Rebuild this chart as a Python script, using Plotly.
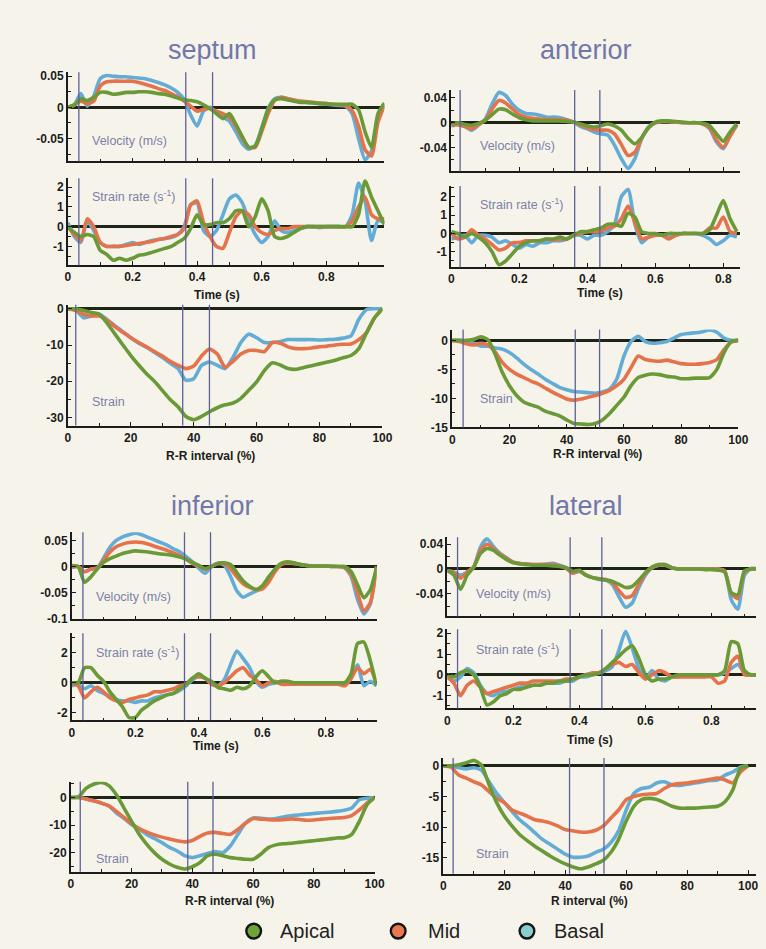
import plotly.graph_objects as go

# ---------------------------------------------------------------------------
# Sampled curves (time grids in s, R-R grids in %)
# ---------------------------------------------------------------------------
SEPTUM_T = [round(0.02 * i, 2) for i in range(50)]
ANTERIOR_T = [round(0.02 * i, 2) for i in range(43)]
INFERIOR_T = [round(0.02 * i, 2) for i in range(49)]
LATERAL_T = [round(0.02 * i, 2) for i in range(48)]
RR_PCT = [2.5 * i for i in range(41)]

# --- septum ---
SEPTUM_VEL_BASAL = [0, .004, .022, .002, .018, .046, .051, .050, .049, .049,
                    .048, .047, .046, .043, .040, .036, .031, .024, .013, -.012,
                    -.030, -.006, 0, -.010, -.016, -.022, -.039, -.058, -.067, -.061,
                    -.033, -.002, .014, .016, .014, .011, .009, .008, .007, .006,
                    .005, .004, .003, .002, -.010, -.050, -.084, -.070, -.018, .004]
SEPTUM_VEL_MID = [0, .004, .010, .006, .010, .034, .041, .042, .042, .042,
                  .042, .040, .037, .034, .030, .027, .022, .017, .010, .002,
                  -.006, -.003, -.002, -.006, -.010, -.016, -.030, -.050, -.064, -.064,
                  -.039, -.010, .011, .016, .014, .012, .010, .009, .008, .007,
                  .006, .005, .004, .003, -.005, -.030, -.068, -.078, -.024, .003]
SEPTUM_VEL_APICAL = [0, .004, .014, .011, .016, .024, .024, .021, .022, .024,
                     .024, .025, .025, .024, .022, .021, .018, .015, .012, .011,
                     .009, .004, -.002, -.010, -.018, -.010, -.027, -.047, -.064, -.062,
                     -.035, -.003, .012, .014, .012, .010, .008, .008, .007, .006,
                     .006, .005, .005, .005, .005, -.004, -.039, -.064, -.010, .007]

SEPTUM_SR_BASAL = [0.2, -0.5, -0.8, 0.3, -0.2, -0.8, -1.0, -1.0, -1.0, -0.9,
                   -0.8, -0.9, -0.8, -0.7, -0.65, -0.6, -0.55, -0.4, 0.0, 1.1,
                   1.2, -0.2, -0.5, -0.2, 0.6, 1.4, 1.6, 1.2, 0.3, -0.4,
                   -0.8, -0.5, 0.3, -0.2, -0.3, -0.2, -0.1, 0, 0, -0.05,
                   0, 0, 0, 0, 0.6, 2.2, 1.3, -0.7, 0.3, 0.2]
SEPTUM_SR_MID = [0, -0.4, -0.7, 0.4, 0, -0.8, -1.0, -1.0, -1.0, -0.95,
                 -0.9, -0.85, -0.8, -0.75, -0.65, -0.6, -0.5, -0.4, -0.1, 1.1,
                 1.3, 0.2, -0.5, -1.0, -1.1, -0.3, 0.5, 0.8, 0.6, 0.0,
                 -0.3, -0.4, -0.2, -0.1, -0.1, 0, 0, 0, 0, 0,
                 0, 0, 0, 0, 0.3, 1.0, 1.5, 0.6, 0.4, 0.4]
SEPTUM_SR_APICAL = [0, -0.3, -0.5, -0.4, -0.5, -1.2, -1.4, -1.7, -1.6, -1.7,
                    -1.6, -1.45, -1.4, -1.3, -1.2, -1.1, -1.0, -0.8, -0.6, -0.1,
                    0.6, 0.1, 0.1, 0.2, 0.2, 0.4, 0.8, 0.8, 0.0, 0.5,
                    1.4, 0.8, -0.5, -0.6, -0.5, -0.3, -0.1, 0, 0, 0,
                    0, 0, 0, 0, 0, 0.6, 2.3, 1.5, 0.8, 0.1]

SEPTUM_ST_BASAL = [0, -0.3, -2.5, -2.0, -1.5, -3.0, -4.7, -6.3, -8.0, -9.5,
                   -10.6, -12.0, -13.4, -15.0, -16.5, -19.7, -19.3, -15.6, -14.7, -15.6,
                   -16.5, -13.4, -9.3, -7.0, -8.0, -9.3, -9.3, -9.0, -8.5, -8.5,
                   -8.5, -8.5, -8.6, -8.5, -8.4, -8.1, -7.5, -2.9, -0.2, 0, 0]
SEPTUM_ST_MID = [0, -0.5, -1.5, -2.0, -2.0, -3.2, -5.0, -6.5, -8.0, -9.3,
                 -10.5, -11.8, -13.0, -14.5, -15.6, -16.5, -15.8, -13.0, -11.1, -12.5,
                 -16.1, -14.5, -12.5, -11.5, -11.5, -11.8, -9.3, -9.5, -10.5, -11.0,
                 -11.0, -10.8, -10.5, -10.3, -10.0, -9.8, -9.7, -8.5, -6.5, -2.5, 0]
SEPTUM_ST_APICAL = [0, 0, -0.5, -1.0, -1.5, -4.0, -7.0, -10.0, -12.9, -15.5,
                    -17.9, -20.0, -22.5, -25.0, -27.0, -29.7, -30.6, -29.7, -28.4, -27.3,
                    -26.5, -26.0, -24.7, -22.5, -20.2, -17.0, -14.9, -15.5, -16.5, -16.7,
                    -16.2, -15.7, -15.2, -14.7, -14.2, -13.5, -12.9, -11.0, -6.5, -2.5, 0]

# --- anterior ---
ANTERIOR_VEL_BASAL = [-.005, -.003, -.006, -.012, -.004, .006, .030, .049, .044, .030,
                      .020, .015, .014, .012, .009, .009, .008, .005, .001, -.006,
                      -.010, -.015, -.018, -.020, -.036, -.058, -.074, -.058, -.026, -.007,
                      0, .002, .002, .001, 0, 0, 0, -.002, -.010, -.031,
                      -.042, -.020, -.004]
ANTERIOR_VEL_MID = [-.004, -.003, -.006, -.010, -.003, .004, .022, .036, .032, .022,
                    .013, .009, .007, .006, .005, .005, .005, .004, .001, -.004,
                    -.008, -.011, -.012, -.012, -.018, -.035, -.053, -.048, -.025, -.008,
                    0, .002, .002, .001, 0, 0, 0, -.002, -.008, -.028,
                    -.040, -.022, -.003]
ANTERIOR_VEL_APICAL = [-.002, 0, -.003, -.004, -.001, .004, .013, .022, .021, .014,
                       .008, .005, .003, .003, .003, .003, .003, .002, .001, -.002,
                       -.005, -.007, -.005, -.002, -.005, -.012, -.025, -.034, -.024, -.008,
                       .001, .003, .003, .002, .001, 0, 0, -.001, -.005, -.018,
                       -.030, -.015, -.002]

ANTERIOR_SR_BASAL = [-0.3, -0.2, -0.1, -0.5, -0.1, -0.1, -0.2, -0.5, -0.4, -0.6,
                     -0.8, -0.6, -0.7, -0.5, -0.5, -0.4, -0.4, -0.3, -0.1, -0.1,
                     -0.3, -0.1, -0.1, 0.1, 0.5, 2.0, 2.4, 0.5, -0.5, -0.2,
                     -0.1, -0.1, -0.2, -0.1, 0, 0, 0, -0.1, -0.3, -0.6,
                     -0.4, -0.1, -0.2]
ANTERIOR_SR_MID = [0, -0.3, -0.2, 0.2, -0.1, -0.3, -0.6, -0.9, -0.8, -0.5,
                   -0.5, -0.4, -0.4, -0.4, -0.3, -0.35, -0.3, -0.3, -0.1, 0,
                   0.1, 0.1, 0.1, 0.3, 0.4, 0.8, 1.5, 0.6, -0.3, -0.2,
                   -0.1, -0.1, -0.3, -0.1, 0, 0, 0, 0, 0.3, 0.3,
                   0.9, 0.1, 0]
ANTERIOR_SR_APICAL = [0.1, 0, -0.2, 0, -0.2, -0.5, -1.0, -1.7, -1.5, -1.1,
                      -0.7, -0.5, -0.4, -0.4, -0.3, -0.3, -0.2, -0.3, -0.1, 0.1,
                      0.1, 0.2, 0.3, 0.5, 0.5, 0.4, 1.1, 0.9, 0.1, 0,
                      0, -0.1, 0, 0, 0, 0, 0, 0, 0.2, 1.0,
                      1.8, 0.8, 0.1]

ANTERIOR_ST_BASAL = [0, 0, -0.2, -0.5, -1.0, -1.0, -1.3, -1.5, -2.1, -3.0,
                     -4.1, -5.0, -5.8, -6.7, -7.4, -8.1, -8.5, -8.8, -8.9, -9.0,
                     -9.1, -8.9, -8.4, -6.7, -2.7, -0.2, 0.7, -0.2, -0.5, -0.4,
                     -0.2, 0.4, 1.0, 1.2, 1.3, 1.5, 1.8, 1.4, 0.4, 0, 0]
ANTERIOR_ST_MID = [0, -0.2, -0.6, -0.8, -0.5, -0.8, -2.0, -3.8, -5.0, -5.8,
                   -6.4, -7.0, -7.5, -8.2, -8.9, -9.5, -10.1, -10.3, -10.1, -9.8,
                   -9.5, -9.1, -8.6, -7.8, -6.7, -4.7, -2.7, -3.3, -3.5, -3.6,
                   -3.4, -3.7, -4.0, -4.1, -4.1, -4.0, -3.8, -3.3, -1.6, -0.3, 0]
ANTERIOR_ST_APICAL = [0, 0, 0, 0.2, 0.6, 0.1, -2.4, -5.5, -7.8, -9.5,
                      -10.6, -11.1, -11.5, -12.2, -12.6, -13.0, -13.7, -14.3, -14.4, -14.5,
                      -14.3, -13.7, -12.6, -11.2, -9.8, -7.8, -6.4, -6.0, -5.8, -5.9,
                      -6.2, -6.3, -6.6, -6.6, -6.5, -6.5, -6.4, -5.0, -2.1, -0.2, 0]

# --- inferior ---
INFERIOR_VEL_BASAL = [-.001, 0, -.010, -.005, -.003, .016, .037, .050, .057, .061,
                      .064, .061, .056, .051, .046, .041, .034, .028, .019, .009,
                      -.003, -.013, 0, .006, .003, -.019, -.047, -.059, -.053, -.047,
                      -.041, -.025, -.006, .005, .008, .006, .004, .002, .001, .001,
                      .001, .001, 0, -.003, -.019, -.063, -.091, -.072, 0]
INFERIOR_VEL_MID = [-.001, 0, -.010, -.005, -.003, .012, .028, .038, .043, .046,
                    .047, .046, .043, .039, .035, .031, .026, .021, .014, .006,
                    .001, -.005, 0, .006, .005, -.004, -.020, -.033, -.040, -.044,
                    -.043, -.030, -.010, .004, .007, .006, .004, .002, .001, .001,
                    .001, 0, 0, -.002, -.015, -.050, -.085, -.070, 0]
INFERIOR_VEL_APICAL = [.002, 0, -.030, -.020, -.005, .008, .015, .020, .025, .028,
                       .030, .029, .028, .026, .024, .023, .021, .018, .014, .008,
                       .002, -.004, 0, .006, .007, .004, -.012, -.028, -.038, -.044,
                       -.037, -.020, -.005, .006, .009, .007, .004, .002, .001, .001,
                       .001, 0, 0, 0, -.010, -.035, -.060, -.045, -.002]

INFERIOR_SR_BASAL = [-0.2, -0.1, -0.4, -0.2, -0.5, -0.7, -0.9, -1.1, -1.2, -1.2,
                     -1.3, -1.2, -1.2, -1.0, -0.9, -0.8, -0.7, -0.5, -0.2, 0.2,
                     0.4, 0.3, 0, -0.2, 0.2, 1.2, 2.1, 1.6, 1.0, 0.1,
                     -0.3, -0.1, 0, 0.1, 0, 0, 0, 0, 0, 0,
                     0, 0, 0, 0, 0.3, 1.2, -0.2, 0.1, -0.2]
INFERIOR_SR_MID = [-0.1, -0.2, -1.0, -0.6, -0.3, -0.6, -1.0, -1.2, -1.3, -1.1,
                   -1.0, -0.9, -0.8, -0.6, -0.6, -0.5, -0.4, -0.2, -0.1, 0.3,
                   0.4, 0.3, -0.1, -0.2, 0, 0.4, 0.8, 1.0, 0.5, 0.2,
                   -0.2, 0, 0.1, -0.1, -0.1, -0.1, -0.1, -0.1, -0.1, -0.1,
                   -0.1, -0.1, -0.1, -0.2, 0.3, 1.0, 0.6, 0.9, -0.1]
INFERIOR_SR_APICAL = [0, 0, 1.0, 1.0, 0.5, 0.1, -0.6, -1.1, -1.6, -2.3,
                      -2.3, -1.8, -1.5, -1.2, -1.0, -0.8, -0.7, -0.4, -0.1, 0.3,
                      0.6, 0.3, 0.1, -0.3, -0.4, -0.5, -0.3, -0.4, -0.2, 0.4,
                      0.8, 0.4, 0, 0.1, 0.1, 0, 0, 0, 0, 0,
                      0, 0, 0, 0, 0.6, 2.6, 2.7, 1.5, -0.2]

INFERIOR_ST_BASAL = [0, 0, -0.5, -1.2, -2.0, -3.0, -5.6, -7.5, -9.8, -11.5,
                     -13.3, -14.8, -16.3, -18.0, -19.3, -21.0, -21.7, -21.0, -20.2, -19.5,
                     -19.9, -17.5, -13.3, -9.2, -7.4, -7.5, -7.8, -7.6, -7.0, -6.6,
                     -6.3, -6.0, -5.8, -5.5, -5.3, -5.0, -4.6, -3.8, -0.8, -0.3, 0]
INFERIOR_ST_MID = [0, 0, -0.5, -1.2, -2.0, -3.0, -5.0, -7.2, -9.5, -11.2,
                   -12.5, -13.5, -14.3, -15.0, -15.6, -16.0, -15.5, -14.0, -12.8, -12.6,
                   -13.0, -13.3, -11.5, -9.3, -7.6, -7.8, -8.0, -8.1, -8.0, -7.7,
                   -7.9, -8.2, -8.1, -7.8, -7.6, -7.4, -7.2, -6.5, -4.5, -2.0, 0]
INFERIOR_ST_APICAL = [0, 0.2, 3.3, 4.8, 5.4, 4.3, 1.0, -3.8, -8.6, -13.3,
                      -16.9, -19.9, -22.3, -24.0, -25.2, -25.8, -25.0, -23.5, -21.0, -20.5,
                      -21.0, -21.7, -22.0, -22.3, -22.3, -20.5, -18.1, -17.1, -16.7, -16.5,
                      -16.2, -15.9, -15.6, -15.3, -15.0, -14.6, -14.5, -13.3, -8.6, -2.6, 0]

# --- lateral ---
LATERAL_VEL_BASAL = [-.003, -.005, -.010, -.005, .003, .035, .049, .036, .025, .018,
                     .011, .009, .008, .007, .007, .008, .009, .006, .002, -.006,
                     -.004, -.010, -.014, -.017, -.018, -.025, -.045, -.062, -.055, -.030,
                     -.010, .002, .006, .007, .002, 0, 0, 0, 0, 0,
                     0, 0, -.003, -.050, -.065, -.010, .001, 0]
LATERAL_VEL_MID = [-.003, -.006, -.015, -.005, .003, .030, .040, .033, .024, .017,
                   .011, .009, .008, .007, .007, .007, .007, .005, .001, -.007,
                   -.003, -.010, -.014, -.016, -.017, -.022, -.035, -.046, -.043, -.025,
                   -.008, .002, .006, .006, .002, 0, 0, 0, 0, 0,
                   0, 0, -.003, -.040, -.048, -.005, 0, 0]
LATERAL_VEL_APICAL = [-.002, -.010, -.033, -.010, .003, .025, .033, .030, .022, .015,
                      .010, .008, .007, .006, .006, .006, .005, .004, .002, -.004,
                      -.002, -.010, -.014, -.016, -.018, -.020, -.025, -.030, -.028, -.018,
                      -.006, .003, .007, .007, .002, 0, 0, 0, 0, -.001,
                      -.001, -.002, -.005, -.038, -.042, -.003, 0, 0]

LATERAL_SR_BASAL = [-0.1, -0.3, -0.1, 0.3, 0.1, -0.5, -0.9, -1.0, -0.8, -0.8,
                    -0.7, -0.6, -0.5, -0.5, -0.5, -0.4, -0.4, -0.4, -0.3, -0.3,
                    -0.1, -0.1, 0, 0.1, 0.2, 0.4, 1.2, 2.1, 1.3, 0.3,
                    -0.2, 0.2, -0.2, -0.3, -0.1, -0.1, 0, 0, 0, 0,
                    0, 0, 0.1, 0.3, 0.5, 0.1, 0, 0]
LATERAL_SR_MID = [-0.1, -0.4, -1.0, -0.5, -0.3, -0.6, -0.9, -0.8, -0.7, -0.6,
                  -0.5, -0.4, -0.4, -0.3, -0.3, -0.3, -0.3, -0.3, -0.2, -0.2,
                  -0.1, 0, 0.1, 0.1, 0.3, 0.5, 0.6, 0.4, 0.5, 0.1,
                  -0.2, 0, 0.2, 0.1, -0.1, -0.1, -0.1, -0.1, -0.1, -0.1,
                  -0.1, -0.4, -0.3, 0.6, 0.9, 0, 0, 0]
LATERAL_SR_APICAL = [0, -0.1, 0.1, 0.2, 0, -0.6, -1.45, -1.3, -1.0, -0.9,
                     -0.7, -0.7, -0.6, -0.5, -0.5, -0.4, -0.4, -0.3, -0.3, -0.2,
                     -0.1, 0, 0, 0.1, 0.3, 0.6, 0.9, 1.2, 1.4, 0.8,
                     0, -0.3, -0.2, -0.2, -0.1, 0, 0, 0, 0, 0,
                     0, 0, 0.2, 1.6, 1.5, 0.2, 0, 0]

LATERAL_ST_BASAL = [0, 0, -0.3, -0.5, -0.3, -0.7, -2.6, -4.5, -6.0, -7.4,
                    -8.8, -9.8, -10.9, -12.0, -12.8, -13.6, -14.4, -14.9, -14.9, -14.7,
                    -14.1, -13.6, -12.5, -10.6, -7.2, -4.5, -3.7, -3.5, -2.8, -2.6,
                    -3.1, -3.2, -3.0, -2.8, -2.6, -2.4, -2.3, -1.5, -1.0, -0.2, 0]
LATERAL_ST_MID = [0, -0.2, -1.5, -2.0, -2.6, -3.1, -4.2, -5.3, -6.0, -7.2,
                  -7.7, -8.2, -8.8, -9.0, -9.3, -9.8, -10.4, -10.6, -10.8, -10.8,
                  -10.5, -9.8, -8.5, -7.2, -5.5, -5.0, -4.7, -4.6, -4.5, -3.7,
                  -3.1, -2.9, -2.8, -2.6, -2.4, -2.2, -2.0, -2.3, -2.8, -1.0, 0]
LATERAL_ST_APICAL = [0, 0, 0.2, 0.5, 0.9, 0.1, -3.1, -6.0, -8.2, -9.8,
                     -11.2, -12.2, -13.1, -13.9, -14.7, -15.4, -16.0, -16.5, -16.8, -16.5,
                     -16.0, -15.4, -14.1, -12.0, -9.0, -6.6, -5.5, -5.3, -5.5, -6.0,
                     -6.6, -6.9, -6.9, -6.9, -6.8, -6.7, -6.6, -5.8, -3.9, -0.4, 0]

# Event markers (vertical lines): time axis (s) and R-R axis (%)
SEPTUM_EVENTS_T = [0.034, 0.365, 0.448]
SEPTUM_EVENTS_RR = [2.5, 36.5, 45.0]
ANTERIOR_EVENTS_T = [0.026, 0.363, 0.437]
ANTERIOR_EVENTS_RR = [3.8, 43.0, 51.5]
INFERIOR_EVENTS_T = [0.035, 0.355, 0.437]
INFERIOR_EVENTS_RR = [3.1, 38.5, 46.8]
LATERAL_EVENTS_T = [0.031, 0.372, 0.468]
LATERAL_EVENTS_RR = [3.2, 41.4, 52.7]

# Tick values / labels
TIME_TICKS = [0, 0.2, 0.4, 0.6, 0.8]
TIME_TICK_TEXT = ["0", "0.2", "0.4", "0.6", "0.8"]
RR_TICKS = [0, 20, 40, 60, 80, 100]
RR_TICK_TEXT = ["0", "20", "40", "60", "80", "100"]

SEGMENTS = ["Basal", "Mid", "Apical"]
LINE_COLORS = {"Basal": "#63acd6", "Mid": "#e4724b", "Apical": "#6a9a37"}
LEGEND_ORDER = ["Apical", "Mid", "Basal"]
LEGEND_COLORS = {"Apical": "#6ea53b", "Mid": "#e8794f", "Basal": "#88cdcf"}

# ---------------------------------------------------------------------------
# Page geometry (pixels) for each wall panel
# ---------------------------------------------------------------------------
W, H = 766, 949


def px(x):
    return x / W


def py(y):
    return 1 - y / H


PANELS = [
    dict(name="septum", title=(213, 48),
         t=SEPTUM_T, rr=RR_PCT,
         vel=dict(Basal=SEPTUM_VEL_BASAL, Mid=SEPTUM_VEL_MID, Apical=SEPTUM_VEL_APICAL),
         sr=dict(Basal=SEPTUM_SR_BASAL, Mid=SEPTUM_SR_MID, Apical=SEPTUM_SR_APICAL),
         st=dict(Basal=SEPTUM_ST_BASAL, Mid=SEPTUM_ST_MID, Apical=SEPTUM_ST_APICAL),
         ev_t=SEPTUM_EVENTS_T, ev_rr=SEPTUM_EVENTS_RR,
         xpx=(66, 388), spx=(66, 386), vel_px=(70, 160), sr_px=(177, 265), st_px=(305, 427),
         t_range=[0, 0.98], rr_range=[0, 100],
         vel_range=[-0.0865, 0.0563], vel_ticks=[-0.05, 0, 0.05], vel_text=["-0.05", "0", "0.05"],
         sr_range=[-1.95, 2.45], sr_ticks=[-1, 0, 1, 2], sr_text=["-1", "0", "1", "2"],
         st_range=[-32.2, 1.1], st_ticks=[-30, -20, -10, 0], st_text=["-30", "-20", "-10", "0"],
         time_lab=(218, 295), rr_lab=(211, 458), rr_title="R-R interval (%)",
         lab_x=88, lab_vel=139, lab_sr=195, lab_st=403),
    dict(name="anterior", title=(593, 48),
         t=ANTERIOR_T, rr=RR_PCT,
         vel=dict(Basal=ANTERIOR_VEL_BASAL, Mid=ANTERIOR_VEL_MID, Apical=ANTERIOR_VEL_APICAL),
         sr=dict(Basal=ANTERIOR_SR_BASAL, Mid=ANTERIOR_SR_MID, Apical=ANTERIOR_SR_APICAL),
         st=dict(Basal=ANTERIOR_ST_BASAL, Mid=ANTERIOR_ST_MID, Apical=ANTERIOR_ST_APICAL),
         ev_t=ANTERIOR_EVENTS_T, ev_rr=ANTERIOR_EVENTS_RR,
         xpx=(456, 750), spx=(457, 748), vel_px=(88, 170), sr_px=(185, 267), st_px=(330, 429),
         t_range=[0, 0.85], rr_range=[0, 100],
         vel_range=[-0.0784, 0.0528], vel_ticks=[-0.04, 0, 0.04], vel_text=["-0.04", "0", "0.04"],
         sr_range=[-1.84, 2.59], sr_ticks=[-1, 0, 1, 2], sr_text=["-1", "0", "1", "2"],
         st_range=[-15.0, 1.87], st_ticks=[-15, -10, -5, 0], st_text=["-15", "-10", "-5", "0"],
         time_lab=(607, 293), rr_lab=(605, 456), rr_title="R-R interval (%)",
         lab_x=483, lab_vel=145, lab_sr=203, lab_st=400),
    dict(name="inferior", title=(213, 508),
         t=INFERIOR_T, rr=RR_PCT,
         vel=dict(Basal=INFERIOR_VEL_BASAL, Mid=INFERIOR_VEL_MID, Apical=INFERIOR_VEL_APICAL),
         sr=dict(Basal=INFERIOR_SR_BASAL, Mid=INFERIOR_SR_MID, Apical=INFERIOR_SR_APICAL),
         st=dict(Basal=INFERIOR_ST_BASAL, Mid=INFERIOR_ST_MID, Apical=INFERIOR_ST_APICAL),
         ev_t=INFERIOR_EVENTS_T, ev_rr=INFERIOR_EVENTS_RR,
         xpx=(70, 380), spx=(69, 378), vel_px=(535, 623), sr_px=(637, 725), st_px=(787, 878),
         t_range=[0, 0.96], rr_range=[0, 100],
         vel_range=[-0.1015, 0.0655], vel_ticks=[-0.1, -0.05, 0, 0.05],
         vel_text=["-0.1", "-0.05", "0", "0.05"],
         sr_range=[-2.49, 3.28], sr_ticks=[-2, 0, 2], sr_text=["-2", "0", "2"],
         st_range=[-26.8, 5.7], st_ticks=[-20, -10, 0], st_text=["-20", "-10", "0"],
         time_lab=(217, 751), rr_lab=(230, 908), rr_title="R-R interval (%)",
         lab_x=93, lab_vel=600, lab_sr=656, lab_st=865),
    dict(name="lateral", title=(593, 508),
         t=LATERAL_T, rr=RR_PCT,
         vel=dict(Basal=LATERAL_VEL_BASAL, Mid=LATERAL_VEL_MID, Apical=LATERAL_VEL_APICAL),
         sr=dict(Basal=LATERAL_SR_BASAL, Mid=LATERAL_SR_MID, Apical=LATERAL_SR_APICAL),
         st=dict(Basal=LATERAL_ST_BASAL, Mid=LATERAL_ST_MID, Apical=LATERAL_ST_APICAL),
         ev_t=LATERAL_EVENTS_T, ev_rr=LATERAL_EVENTS_RR,
         xpx=(452, 766), spx=(448, 766), vel_px=(540, 620), sr_px=(633, 713), st_px=(763, 880),
         t_range=[0, 0.935], rr_range=[0, 102.6],
         vel_range=[-0.0768, 0.0512], vel_ticks=[-0.04, 0, 0.04], vel_text=["-0.04", "0", "0.04"],
         sr_range=[-1.62, 2.19], sr_ticks=[-1, 0, 1, 2], sr_text=["-1", "0", "1", "2"],
         st_range=[-17.6, 1.29], st_ticks=[-15, -10, -5, 0], st_text=["-15", "-10", "-5", "0"],
         time_lab=(597, 745), rr_lab=(597, 908), rr_title="R interval (%)",
         lab_x=479, lab_vel=597, lab_sr=653, lab_st=860),
]

BG = "#f6f4ea"
INK = "#1c1c1c"
LAVENDER = "#7277ab"
LABEL_GREY = "#7c80a8"
EVENT_COLOR = "#5d6198"
FONT = "Liberation Sans, Arial, sans-serif"

fig = go.Figure()
shapes = []
annotations = []
axis_count = [0]


def add_axes(xpx, ypx, xrange, yrange, xticks, xtext, xminor, yticks, ytext, show_xlabels):
    axis_count[0] += 1
    n = axis_count[0]
    sfx = "" if n == 1 else str(n)
    tickfont = dict(family=FONT, size=12, color=INK, weight="bold")
    xaxis = dict(domain=[px(xpx[0]), px(xpx[1])], range=xrange, anchor="y" + sfx,
                 showline=True, linecolor=INK, linewidth=1.6, showgrid=False, zeroline=False,
                 ticks="inside", ticklen=4, tickwidth=1.3, tickcolor=INK,
                 tickvals=xticks, ticktext=xtext, showticklabels=show_xlabels,
                 tickfont=tickfont,
                 minor=dict(ticks="inside", ticklen=3, tickwidth=1, tickcolor=INK,
                            tick0=0, dtick=xminor, showgrid=False),
                 fixedrange=True)
    ydtick = (yticks[1] - yticks[0]) / 2
    yaxis = dict(domain=[py(ypx[1]), py(ypx[0])], range=yrange, anchor="x" + sfx,
                 showline=True, linecolor=INK, linewidth=1.6, showgrid=False,
                 zeroline=True, zerolinecolor="#1f2418", zerolinewidth=2.6,
                 ticks="inside", ticklen=4, tickwidth=1.3, tickcolor=INK,
                 tickvals=yticks, ticktext=ytext, tickfont=tickfont,
                 minor=dict(ticks="inside", ticklen=3, tickwidth=1, tickcolor=INK,
                            tick0=0, dtick=ydtick, showgrid=False),
                 fixedrange=True)
    fig.update_layout(**{"xaxis" + sfx: xaxis, "yaxis" + sfx: yaxis})
    return "x" + sfx, "y" + sfx


def add_events(xref, yref, positions):
    for xv in positions:
        shapes.append(dict(type="line", xref=xref, yref=yref + " domain",
                           x0=xv, x1=xv, y0=0, y1=1,
                           line=dict(color=EVENT_COLOR, width=1.3), layer="above"))


def add_curves(xref, yref, xs, series):
    for seg in SEGMENTS:
        fig.add_trace(go.Scatter(x=xs, y=series[seg], mode="lines", name=seg,
                                 xaxis=xref, yaxis=yref, showlegend=False,
                                 line=dict(color=LINE_COLORS[seg], width=3.6,
                                           shape="spline", smoothing=0.6),
                                 hoverinfo="skip"))


def label(x, y, text, size=12.5, color=LABEL_GREY, anchor="left", weight="normal"):
    annotations.append(dict(x=px(x), y=py(y), xref="paper", yref="paper", text=text,
                            showarrow=False, xanchor=anchor, yanchor="middle",
                            font=dict(family=FONT, size=size, color=color, weight=weight)))


for p in PANELS:
    # velocity
    xr, yr = add_axes(p["xpx"], p["vel_px"], p["t_range"], p["vel_range"],
                      TIME_TICKS, TIME_TICK_TEXT, 0.1, p["vel_ticks"], p["vel_text"], False)
    add_curves(xr, yr, p["t"], p["vel"])
    add_events(xr, yr, p["ev_t"])
    # strain rate
    xr, yr = add_axes(p["xpx"], p["sr_px"], p["t_range"], p["sr_range"],
                      TIME_TICKS, TIME_TICK_TEXT, 0.1, p["sr_ticks"], p["sr_text"], True)
    add_curves(xr, yr, p["t"], p["sr"])
    add_events(xr, yr, p["ev_t"])
    # strain
    xr, yr = add_axes(p["spx"], p["st_px"], p["rr_range"], p["st_range"],
                      RR_TICKS, RR_TICK_TEXT, 10, p["st_ticks"], p["st_text"], True)
    add_curves(xr, yr, p["rr"], p["st"])
    add_events(xr, yr, p["ev_rr"])

    label(p["title"][0], p["title"][1], p["name"], size=27, color=LAVENDER, anchor="center")
    label(p["lab_x"], p["lab_vel"], "Velocity (m/s)")
    label(p["lab_x"], p["lab_sr"], "Strain rate (s<sup>-1</sup>)")
    label(p["lab_x"], p["lab_st"], "Strain")
    label(p["time_lab"][0], p["time_lab"][1], "Time (s)", size=12, color=INK,
          anchor="center", weight="bold")
    label(p["rr_lab"][0], p["rr_lab"][1], p["rr_title"], size=12, color=INK,
          anchor="center", weight="bold")

# legend row drawn as circles + text
LEGEND_POS = {"Apical": (255, 280), "Mid": (402, 430), "Basal": (533, 558)}
LEGEND_Y = 938
R = 7.5
for seg in LEGEND_ORDER:
    cx, tx = LEGEND_POS[seg]
    shapes.append(dict(type="circle", xref="paper", yref="paper",
                       x0=px(cx - R), x1=px(cx + R), y0=py(LEGEND_Y + R), y1=py(LEGEND_Y - R),
                       fillcolor=LEGEND_COLORS[seg], line=dict(color="#151515", width=2.4)))
    label(tx, LEGEND_Y, seg, size=20, color="#222222")

fig.update_layout(width=W, height=H, margin=dict(l=0, r=0, t=0, b=0),
                  paper_bgcolor=BG, plot_bgcolor="rgba(0,0,0,0)",
                  showlegend=False, shapes=shapes, annotations=annotations,
                  font=dict(family=FONT))

fig.write_html("out.html")
